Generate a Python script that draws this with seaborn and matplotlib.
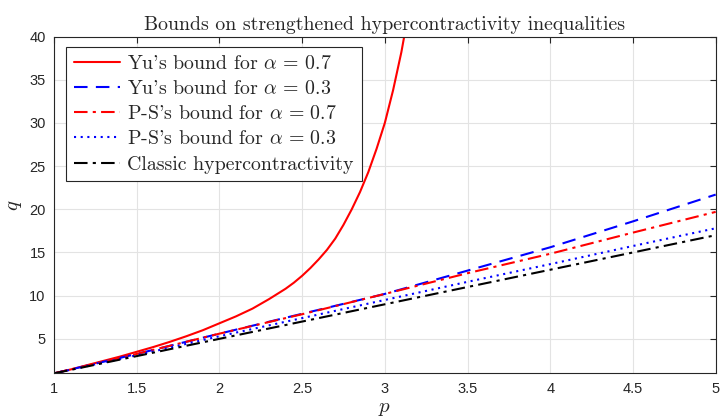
import matplotlib
matplotlib.use("Agg")
import matplotlib.pyplot as plt
import seaborn as sns
import pandas as pd

# Yu's bound, alpha = 0.7 (blows up just past p = 3.1)
p_yu07 = [1.0, 1.1, 1.2, 1.3, 1.4, 1.5, 1.6, 1.7, 1.8, 1.9, 2.0, 2.1, 2.2, 2.3, 2.4,
          2.45, 2.5, 2.55, 2.6, 2.65, 2.7, 2.75, 2.8, 2.85, 2.9, 2.95, 3.0, 3.05, 3.1, 3.15]
q_yu07 = [1.0, 1.45, 1.95, 2.45, 2.95, 3.5, 4.05, 4.65, 5.3, 6.0, 6.8, 7.6, 8.5, 9.6, 10.8,
          11.5, 12.3, 13.2, 14.2, 15.3, 16.6, 18.2, 20.0, 22.0, 24.3, 27.0, 30.0, 33.8, 38.2, 43.5]

# Remaining bounds sampled on a common grid of p
p_grid = [1.0, 1.5, 2.0, 2.5, 3.0, 3.5, 4.0, 4.5, 5.0]
q_yu03 = [1.0, 3.25, 5.6, 7.9, 10.2, 12.9, 15.6, 18.6, 21.7]
q_ps07 = [1.0, 3.25, 5.6, 7.85, 10.2, 12.6, 14.85, 17.3, 19.7]
q_ps03 = [1.0, 3.1, 5.3, 7.4, 9.5, 11.6, 13.65, 15.75, 17.8]
q_classic = [1.0, 3.0, 5.0, 7.0, 9.0, 11.0, 13.0, 15.0, 17.0]

x_ticks = [1, 1.5, 2, 2.5, 3, 3.5, 4, 4.5, 5]
y_ticks = [5, 10, 15, 20, 25, 30, 35, 40]

sns.set_style("white")
plt.rcParams["mathtext.fontset"] = "cm"
plt.rcParams["axes.unicode_minus"] = False

fig = plt.figure(figsize=(7.2, 4.2), dpi=100)
ax = fig.add_axes([0.075, 0.111, 0.919, 0.802])

series = [
    (p_yu07, q_yu07, "#ff0000", "-", r"Yu's bound for $\alpha\, =\, 0.7$"),
    (p_grid, q_yu03, "#0000ff", (0, (6.5, 4.0)), r"Yu's bound for $\alpha\, =\, 0.3$"),
    (p_grid, q_ps07, "#ff0000", (0, (6.5, 2.5, 1.5, 2.5)), r"P-S's bound for $\alpha\, =\, 0.7$"),
    (p_grid, q_ps03, "#0000ff", (0, (1.0, 2.2)), r"P-S's bound for $\alpha\, =\, 0.3$"),
    (p_grid, q_classic, "#000000", (0, (6.5, 2.5, 1.5, 2.5)), "Classic hypercontractivity"),
]

for px, qy, col, ls, lab in series:
    df = pd.DataFrame({"p": px, "q": qy})
    sns.lineplot(data=df, x="p", y="q", ax=ax, color=col, linestyle=ls,
                 linewidth=1.5, label=lab, sort=False)

ax.set_xlim(1, 5)
ax.set_ylim(1, 40)
ax.set_xticks(x_ticks)
ax.set_xticklabels([f"{t:g}" for t in x_ticks])
ax.set_yticks(y_ticks)
ax.set_yticklabels([f"{t:g}" for t in y_ticks])

ax.grid(True, color="#e3e3e3", linewidth=0.8)
ax.set_axisbelow(True)
for s in ax.spines.values():
    s.set_visible(True)
    s.set_color("#262626")
    s.set_linewidth(0.8)
ax.tick_params(axis="both", direction="in", length=4, width=0.8, color="#262626",
               top=True, right=True, labelsize=10.5, labelcolor="#262626", pad=6)
for lbl in ax.get_xticklabels() + ax.get_yticklabels():
    lbl.set_fontfamily("Liberation Sans")

ax.set_xlabel(r"$p$", fontsize=15, labelpad=2, color="#262626")
ax.set_ylabel(r"$q$", fontsize=15, labelpad=4, color="#262626")
ax.set_title("Bounds on strengthened hypercontractivity inequalities",
             fontsize=14.3, family=["cmr10", "DejaVu Serif"], pad=5)

leg = ax.legend(loc="upper left", bbox_to_anchor=(0.018, 0.969), borderaxespad=0,
                prop={"family": ["cmr10", "DejaVu Serif"], "size": 14.3}, frameon=True,
                fancybox=False, edgecolor="#262626", framealpha=1, handlelength=2.3,
                handletextpad=0.4, labelspacing=0.36, borderpad=0.4)
leg.get_frame().set_linewidth(0.8)

fig.savefig("out.png", dpi=100)
